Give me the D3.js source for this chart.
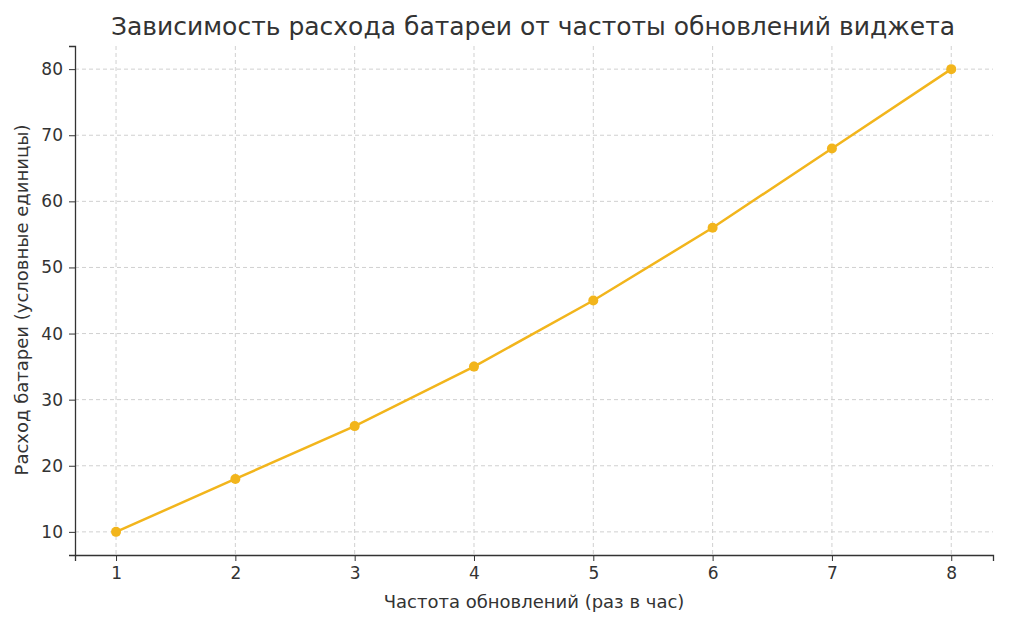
<!DOCTYPE html>
<html><head><meta charset="utf-8">
<script src="https://cdn.jsdelivr.net/npm/d3@7"></script>
<style>body{margin:0;background:#fff}text{font-family:"DejaVu Sans",sans-serif;fill:#333}</style>
</head><body>
<svg id="chart" width="1024" height="624"></svg>
<script>
// data
const freq = [1, 2, 3, 4, 5, 6, 7, 8];
const battery = [10, 18, 26, 35, 45, 56, 68, 80];
const yTicks = [10, 20, 30, 40, 50, 60, 70, 80];

const svg = d3.select("#chart"),
  pLeft = 75, pRight = 993, pTop = 46, pBottom = 555;
const x = d3.scaleLinear().domain([0.656, 8.35]).range([pLeft, pRight]);
const y = d3.scaleLinear().domain([6.5, 83.5]).range([pBottom, pTop]);

// grid
svg.append("g").selectAll("line").data(freq).enter().append("line")
  .attr("x1", d => x(d)).attr("x2", d => x(d)).attr("y1", pTop).attr("y2", pBottom)
  .attr("stroke", "#d0d0d0").attr("stroke-dasharray", "4,3");
svg.append("g").selectAll("line").data(yTicks).enter().append("line")
  .attr("x1", pLeft).attr("x2", pRight).attr("y1", d => y(d)).attr("y2", d => y(d))
  .attr("stroke", "#d0d0d0").attr("stroke-dasharray", "4,3");

// axes
const xa = svg.append("g").attr("transform", `translate(0,${pBottom})`)
  .call(d3.axisBottom(x).tickValues(freq).tickSize(6).tickPadding(6));
const ya = svg.append("g").attr("transform", `translate(${pLeft},0)`)
  .call(d3.axisLeft(y).tickValues(yTicks).tickSize(6).tickPadding(6));
[xa, ya].forEach(a => {
  a.select(".domain").attr("stroke", "#333").attr("stroke-width", 1.3);
  a.selectAll(".tick line").attr("stroke", "#333");
  a.selectAll("text").attr("font-size", 17).attr("fill", "#333");
});

// line + points
svg.append("path").datum(freq.map((f, i) => [f, battery[i]]))
  .attr("fill", "none").attr("stroke", "#f2b51c").attr("stroke-width", 2.5)
  .attr("d", d3.line().x(d => x(d[0])).y(d => y(d[1])));
svg.append("g").selectAll("circle").data(freq).enter().append("circle")
  .attr("cx", d => x(d)).attr("cy", (d, i) => y(battery[i])).attr("r", 5)
  .attr("fill", "#f2b51c");

// labels
svg.append("text").attr("x", 533).attr("y", 35).attr("text-anchor", "middle")
  .attr("font-size", 25).text("Зависимость расхода батареи от частоты обновлений виджета");
svg.append("text").attr("x", 534).attr("y", 608).attr("text-anchor", "middle")
  .attr("font-size", 18).text("Частота обновлений (раз в час)");
svg.append("text").attr("transform", "translate(28,300) rotate(-90)").attr("text-anchor", "middle")
  .attr("font-size", 18).text("Расход батареи (условные единицы)");
</script>
</body></html>
